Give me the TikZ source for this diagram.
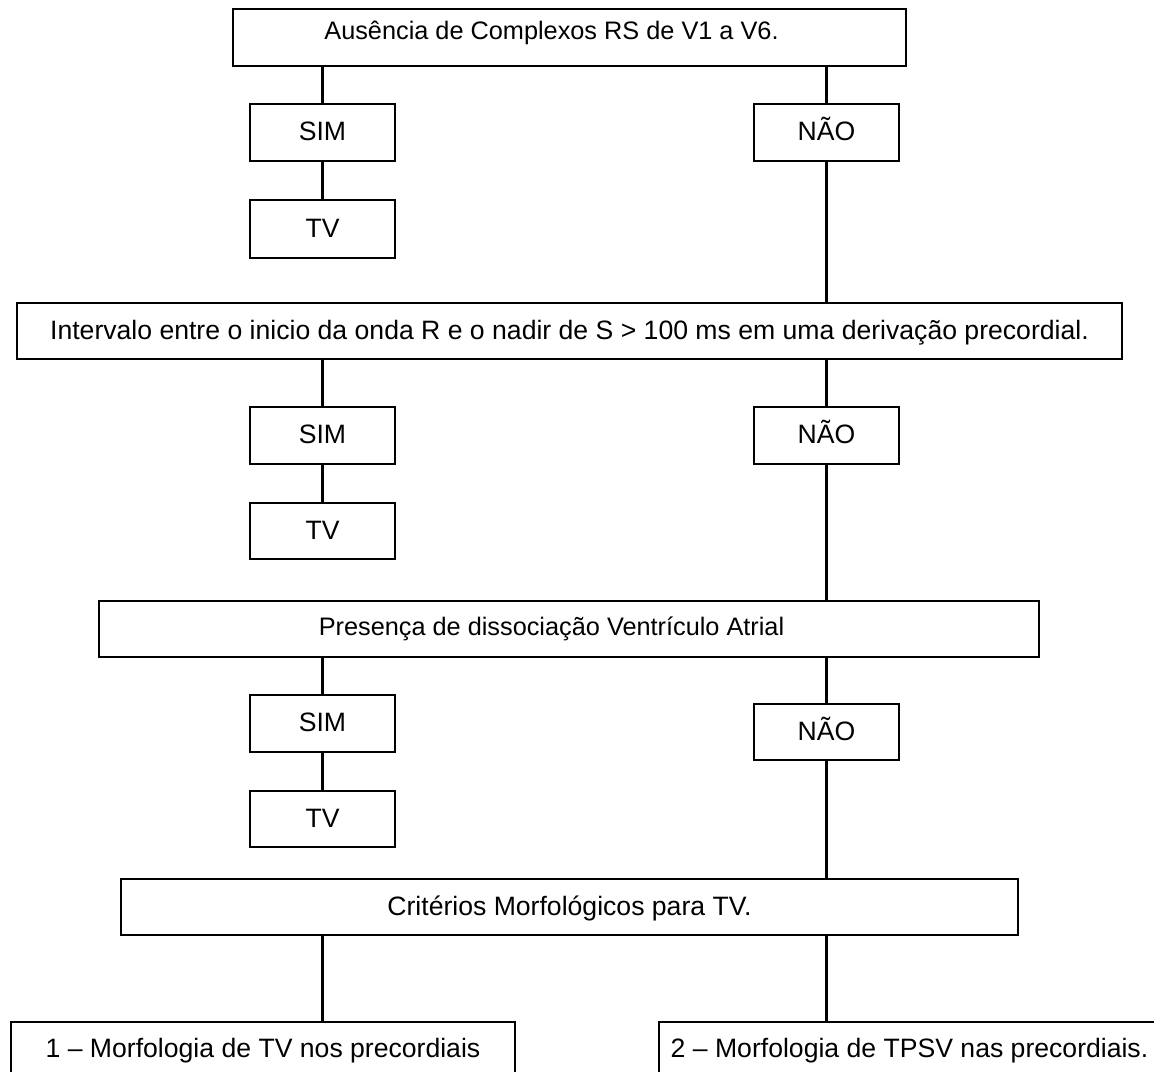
\documentclass[tikz,border=0pt]{standalone}
\usepackage{fontspec}
\setmainfont{Liberation Sans}
\begin{document}
\begin{tikzpicture}[x=1pt,y=-1pt,
  box/.style={draw, line width=2.2pt, inner sep=0pt, outer sep=0pt,
    font=\fontsize{26.6}{32}\selectfont, text height=19pt, text depth=3pt},
  smallfont/.style={font=\fontsize{25.3}{30}\selectfont},
  small/.style={box, minimum width=145pt, minimum height=57pt},
  link/.style={line width=2.2pt}]
\useasboundingbox (0,0) rectangle (1154,1071);

% level 1
\node[box, smallfont, minimum width=673pt, minimum height=57pt, text height=18pt, text depth=14pt] (q1) at (569.5,37.5)
  {Ausência de Complexos RS de V1 a V6.\hspace*{36pt}};
\node[small] (s1) at (322.5,132.5) {SIM};
\node[small] (n1) at (826.5,132.5) {NÃO};
\node[small, minimum height=58pt] (t1) at (322.5,229) {TV};

% level 2
\node[box, minimum width=1105pt, minimum height=56pt] (q2) at (569.5,331)
  {Intervalo entre o inicio da onda R e o nadir de S > 100 ms em uma derivação precordial.};
\node[small] (s2) at (322.5,435.5) {SIM};
\node[small] (n2) at (826.5,435.5) {NÃO};
\node[small, minimum height=56pt] (t2) at (322.5,531) {TV};

% level 3
\node[box, smallfont, minimum width=940pt, minimum height=56pt, text height=18pt, text depth=6pt] (q3) at (569,629)
  {Presença de dissociação Ventrículo Atrial\hspace*{35pt}};
\node[small] (s3) at (322.5,723.5) {SIM};
\node[small, minimum height=56pt] (t3) at (322.5,819) {TV};
\node[small, minimum height=56pt] (n3) at (826.5,732) {NÃO};

% level 4
\node[box, minimum width=897pt, minimum height=56pt] (q4) at (569.5,907)
  {Critérios Morfológicos para TV.};
\node[box, minimum width=504pt, minimum height=54pt] (r1) at (263,1049)
  {1 – Morfologia de TV nos precordiais};
\node[box, minimum width=501pt, minimum height=54pt] (r2) at (909.5,1049)
  {2 – Morfologia de TPSV nas precordiais.};

% connectors
\draw[link] (q1.south -| s1) -- (s1.north);
\draw[link] (q1.south -| n1) -- (n1.north);
\draw[link] (s1.south) -- (t1.north);
\draw[link] (n1.south) -- (q2.north -| n1);

\draw[link] (q2.south -| s2) -- (s2.north);
\draw[link] (q2.south -| n2) -- (n2.north);
\draw[link] (s2.south) -- (t2.north);
\draw[link] (n2.south) -- (q3.north -| n2);

\draw[link] (q3.south -| s3) -- (s3.north);
\draw[link] (q3.south -| n3) -- (n3.north);
\draw[link] (s3.south) -- (t3.north);
\draw[link] (n3.south) -- (q4.north -| n3);

\draw[link] (q4.south -| t3) -- (t3 |- r1.north);
\draw[link] (q4.south -| n3) -- (n3 |- r2.north);
\end{tikzpicture}
\end{document}
